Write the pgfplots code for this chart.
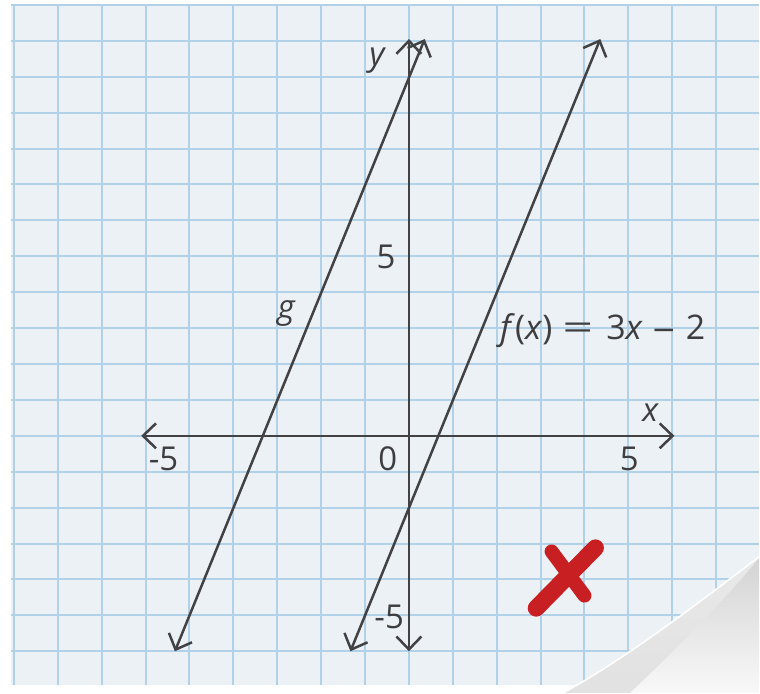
\documentclass[border=0pt]{standalone}
\usepackage{pgfplots}
\pgfplotsset{compat=1.18}
\usepackage{graphicx}
\usepackage{fontspec}
\setmainfont{Open Sans}
\usetikzlibrary{arrows.meta}
\definecolor{pagec}{RGB}{236,241,245}
\definecolor{gridc}{RGB}{176,209,231}
\definecolor{lc}{RGB}{66,66,68}
\definecolor{tc}{RGB}{62,62,64}
\definecolor{xred}{RGB}{200,32,34}
\tikzset{ar/.style={line width=1.25pt, line cap=round,
  arrows={Straight Barb[length=6.5pt,width=12.5pt,line width=1.25pt]-Straight Barb[length=6.5pt,width=12.5pt,line width=1.25pt]}},
  lab/.style={text=tc, font=\fontsize{16.5}{19}\selectfont}}
\begin{document}
\begin{tikzpicture}
\begin{axis}[
  x=22pt, y=18pt,
  xmin=-9.295, xmax=7.977, ymin=-7.14, ymax=12.11,
  axis line style={draw=none},
  xtick={-9,...,7}, ytick={-7,...,12},
  xticklabels={}, yticklabels={},
  tick label style={overlay},
  major tick length=0pt,
  grid=major,
  grid style={gridc, line width=1pt},
  axis background/.style={fill=pagec},
  clip=true,
]
% page margins
\fill[white] (-9.4,-7.3) rectangle (-9.07,12.3);
\fill[white] (-9.4,12.03) rectangle (8.1,12.3);
\fill[white] (-9.4,-7.3) rectangle (8.1,-6.94);
% page curl
\shade[shading angle=45, top color=gray!35, middle color=gray!65, bottom color=gray!5]
  (3.45,-7.2) .. controls (4.9,-6.25) and (6.6,-4.65) .. (8.05,-3.30) -- (8.05,-7.2) -- cycle;
\shade[shading angle=-45, top color=gray!5, bottom color=gray!35, opacity=0.6]
  (3.45,-7.2) .. controls (4.9,-6.25) and (6.6,-4.65) .. (8.05,-3.30)
  .. controls (6.9,-5.0) and (5.6,-6.5) .. (5.0,-7.2) -- cycle;
\draw[white, line width=0.8pt] (3.45,-7.2) .. controls (4.9,-6.25) and (6.6,-4.65) .. (8.05,-3.30);
% axes
\addplot[ar, lc, mark=none] coordinates {(-6.1,0) (6.05,0)};
\addplot[ar, lc, mark=none] coordinates {(0,-6) (0,11.05)};
% lines
\addplot[ar, lc, mark=none] coordinates {(-5.333,-6) (0.36,11.05)};
\addplot[ar, lc, mark=none] coordinates {(-1.333,-6) (4.36,11.05)};
% red X
\addplot[xred, line width=8.5pt, line cap=round, mark=none] coordinates {(2.9,-4.8) (4.25,-3.12)};
\addplot[xred, line width=7pt, line cap=round, mark=none] coordinates {(3.25,-3.22) (4.0,-4.45)};
% labels
\node[lab] at (-5.59,-0.64) {-5};
\node[lab] at (-0.48,-0.64) {0};
\node[lab] at (5.02,-0.64) {5};
\node[lab] at (-0.52,4.97) {5};
\node[lab] at (-0.45,-5.03) {-5};
\node[lab, anchor=base] at (5.5,0.39) {\itshape x};
\node[lab, anchor=base] at (-0.73,10.3) {\itshape y};
\node[lab, anchor=base] at (-2.8,3.28) {\itshape g};
\node[lab, anchor=west, inner sep=0pt, font=\fontsize{17}{19}\selectfont] at (2.07,2.94)
  {\textit{f}(\textit{x})\hspace{5pt}\scalebox{1.6}[1]{=}\hspace{6.5pt}3\textit{x}\hspace{5pt}\scalebox{1.3}[1]{\textendash}\hspace{5.5pt}2};
\end{axis}
\end{tikzpicture}
\end{document}
